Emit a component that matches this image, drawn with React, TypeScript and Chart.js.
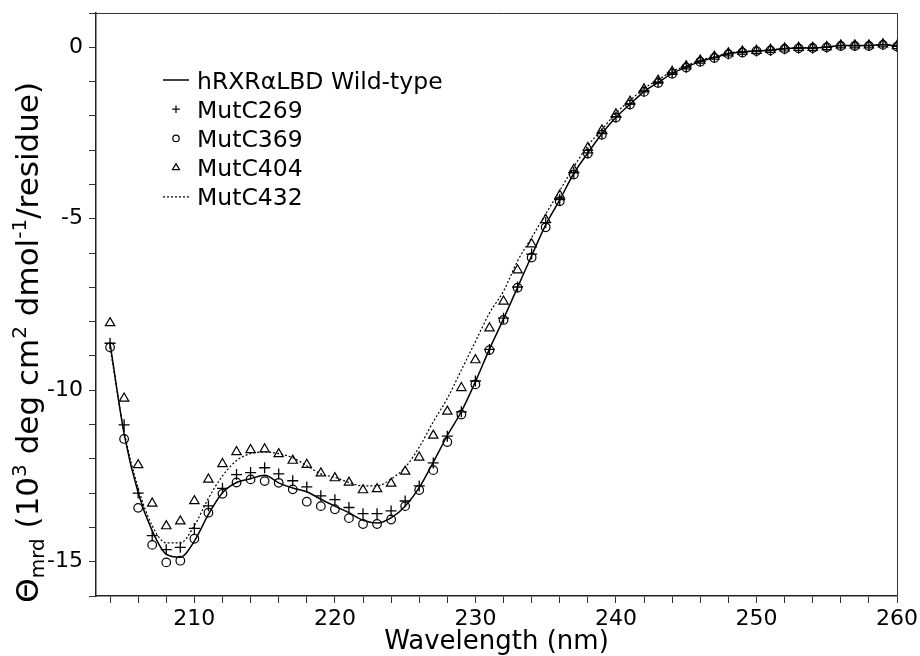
import { useEffect, useRef } from 'react';
import { Chart, registerables } from 'chart.js';

Chart.register(...registerables);

// ---- data ----
const wavelengths = [
  204, 205, 206, 207, 208, 209, 210, 211, 212, 213, 214, 215, 216, 217, 218, 219, 220, 221, 222,
  223, 224, 225, 226, 227, 228, 229, 230, 231, 232, 233, 234, 235, 236, 237, 238, 239, 240, 241,
  242, 243, 244, 245, 246, 247, 248, 249, 250, 251, 252, 253, 254, 255, 256, 257, 258, 259, 260,
];

const wildType = [
  -8.63, -11.27, -12.99, -14.10, -14.78, -14.87, -14.40, -13.62, -12.99, -12.69, -12.58, -12.48,
  -12.70, -12.85, -12.96, -13.18, -13.38, -13.57, -13.79, -13.87, -13.72, -13.38, -12.84, -12.10,
  -11.32, -10.62, -9.75, -8.80, -7.92, -7.00, -6.08, -5.18, -4.45, -3.68, -3.08, -2.52, -2.04,
  -1.66, -1.29, -1.03, -0.76, -0.58, -0.41, -0.30, -0.19, -0.14, -0.11, -0.09, -0.04, -0.02,
  -0.02, 0.0, 0.05, 0.05, 0.05, 0.08, 0.03,
];

const mutC269 = [
  -8.63, -11.01, -13.0, -14.24, -14.65, -14.58, -14.03, -13.37, -12.86, -12.46, -12.40, -12.26,
  -12.44, -12.64, -12.82, -13.08, -13.19, -13.42, -13.60, -13.60, -13.52, -13.23, -12.79, -12.12,
  -11.34, -10.63, -9.73, -8.81, -7.90, -6.99, -6.03, -5.11, -4.44, -3.66, -3.08, -2.52, -2.03,
  -1.65, -1.28, -1.02, -0.75, -0.58, -0.41, -0.30, -0.19, -0.14, -0.11, -0.09, -0.04, -0.02,
  -0.02, 0.0, 0.05, 0.05, 0.05, 0.08, 0.03,
];

const mutC369 = [
  -8.75, -11.42, -13.43, -14.51, -15.02, -14.97, -14.33, -13.57, -13.02, -12.69, -12.60, -12.65,
  -12.70, -12.89, -13.25, -13.38, -13.47, -13.73, -13.90, -13.90, -13.77, -13.38, -12.91, -12.33,
  -11.51, -10.71, -9.83, -8.83, -7.95, -7.01, -6.13, -5.25, -4.49, -3.71, -3.10, -2.55, -2.05,
  -1.67, -1.30, -1.04, -0.77, -0.59, -0.42, -0.31, -0.20, -0.15, -0.11, -0.09, -0.05, -0.03,
  -0.02, 0.0, 0.04, 0.04, 0.04, 0.07, 0.02,
];

const mutC404 = [
  -8.04, -10.24, -12.18, -13.30, -13.96, -13.82, -13.23, -12.60, -12.15, -11.80, -11.74, -11.72,
  -11.86, -12.05, -12.17, -12.42, -12.56, -12.69, -12.91, -12.88, -12.72, -12.37, -11.96, -11.32,
  -10.62, -9.93, -9.12, -8.19, -7.41, -6.50, -5.74, -5.03, -4.32, -3.57, -2.93, -2.42, -1.95,
  -1.58, -1.22, -0.97, -0.71, -0.55, -0.38, -0.27, -0.17, -0.12, -0.10, -0.07, -0.03, -0.01,
  -0.01, 0.01, 0.06, 0.06, 0.06, 0.09, 0.04,
];

const mutC432 = [
  -8.75, -11.2, -12.85, -13.95, -14.45, -14.45, -13.95, -13.15, -12.5, -12.05, -11.85, -11.8,
  -11.85, -11.97, -12.2, -12.44, -12.54, -12.69, -12.79, -12.79, -12.59, -12.25, -11.66, -10.92,
  -10.24, -9.41, -8.58, -7.75, -7.11, -6.23, -5.55, -4.86, -4.18, -3.49, -2.87, -2.40, -1.92,
  -1.55, -1.20, -0.95, -0.70, -0.54, -0.38, -0.27, -0.17, -0.12, -0.10, -0.07, -0.03, -0.01,
  -0.01, 0.01, 0.05, 0.05, 0.05, 0.08, 0.03,
];

const seriesNames = ['hRXRαLBD Wild-type', 'MutC269', 'MutC369', 'MutC404', 'MutC432'];
const xLabelTicks = [210, 220, 230, 240, 250, 260];
const yLabelTicks = [-15, -10, -5, 0];
const xTitle = 'Wavelength (nm)';
const yTitleParts: { t: string; k: 'n' | 'sub' | 'sup' }[] = [
  { t: 'Θ', k: 'n' },
  { t: 'mrd', k: 'sub' },
  { t: ' (10', k: 'n' },
  { t: '3', k: 'sup' },
  { t: ' deg cm', k: 'n' },
  { t: '2', k: 'sup' },
  { t: ' dmol', k: 'n' },
  { t: '-1', k: 'sup' },
  { t: '/residue)', k: 'n' },
];

const FONT = '"DejaVu Sans", "Noto Sans", sans-serif';

function drawMarker(ctx: CanvasRenderingContext2D, kind: string, x: number, y: number, r: number) {
  ctx.beginPath();
  if (kind === 'cross') {
    ctx.moveTo(x - r, y);
    ctx.lineTo(x + r, y);
    ctx.moveTo(x, y - r);
    ctx.lineTo(x, y + r);
  } else if (kind === 'circle') {
    ctx.arc(x, y, r, 0, Math.PI * 2);
  } else if (kind === 'triangle') {
    for (let i = 0; i < 3; i++) {
      const a = (i * 2 * Math.PI) / 3;
      const px = x + Math.sin(a) * r;
      const py = y - Math.cos(a) * r;
      if (i === 0) ctx.moveTo(px, py);
      else ctx.lineTo(px, py);
    }
    ctx.closePath();
  }
  ctx.stroke();
}

const decorPlugin = {
  id: 'decor',
  afterDraw(chart: any) {
    const { ctx, chartArea: a } = chart;
    ctx.save();
    // frame top/right
    ctx.strokeStyle = '#333';
    ctx.lineWidth = 1;
    ctx.setLineDash([]);
    ctx.beginPath();
    ctx.moveTo(a.left, Math.round(a.top) + 0.5);
    ctx.lineTo(Math.round(a.right) + 0.5, Math.round(a.top) + 0.5);
    ctx.lineTo(Math.round(a.right) + 0.5, a.bottom);
    ctx.stroke();

    // x title
    ctx.fillStyle = '#000';
    ctx.font = `26px ${FONT}`;
    ctx.textAlign = 'center';
    ctx.textBaseline = 'alphabetic';
    ctx.fillText(xTitle, (a.left + a.right) / 2, 649);

    // y title with sub/superscripts
    const big = `31px ${FONT}`;
    const small = `20px ${FONT}`;
    let total = 0;
    const widths = yTitleParts.map((p) => {
      ctx.font = p.k === 'n' ? big : small;
      const w = ctx.measureText(p.t).width;
      total += w;
      return w;
    });
    ctx.save();
    ctx.translate(38, 82 + total);
    ctx.rotate(-Math.PI / 2);
    ctx.textAlign = 'left';
    let cx = 0;
    yTitleParts.forEach((p, i) => {
      ctx.font = p.k === 'n' ? big : small;
      const dy = p.k === 'sub' ? 6 : p.k === 'sup' ? -12 : 0;
      ctx.fillText(p.t, cx, dy);
      cx += widths[i];
    });
    ctx.restore();

    // legend
    const lx0 = 163;
    const lx1 = 189;
    const mx = 176;
    const tx = 197;
    const base0 = 88.5;
    const step = 29.2;
    ctx.font = `23.5px ${FONT}`;
    ctx.textAlign = 'left';
    ctx.textBaseline = 'alphabetic';
    ctx.strokeStyle = '#000';
    seriesNames.forEach((name, i) => {
      const by = base0 + i * step;
      const my = by - 8.5;
      ctx.setLineDash([]);
      if (i === 0) {
        ctx.lineWidth = 1.5;
        ctx.beginPath();
        ctx.moveTo(lx0, my);
        ctx.lineTo(lx1, my);
        ctx.stroke();
      } else if (i === 4) {
        ctx.lineWidth = 1.2;
        ctx.setLineDash([2, 2]);
        ctx.beginPath();
        ctx.moveTo(lx0, my);
        ctx.lineTo(lx1, my);
        ctx.stroke();
        ctx.setLineDash([]);
      } else {
        ctx.lineWidth = 1.2;
        const kind = i === 1 ? 'cross' : i === 2 ? 'circle' : 'triangle';
        const r = i === 1 ? 3.8 : i === 2 ? 3.2 : 4;
        drawMarker(ctx, kind, mx, my, r);
      }
      ctx.fillStyle = '#000';
      ctx.fillText(name, tx, by);
    });
    ctx.restore();
  },
};

export default function App() {
  const ref = useRef<HTMLCanvasElement>(null);

  useEffect(() => {
    const canvas = ref.current;
    if (!canvas) return;
    const pts = (ys: number[]) => wavelengths.map((x, i) => ({ x, y: ys[i] }));
    const xTickValues: number[] = [];
    for (let v = 204; v <= 260; v += 2) xTickValues.push(v);
    const yTickValues: number[] = [];
    for (let v = -16; v <= 1; v += 1) yTickValues.push(v);

    const chart = new Chart(canvas, {
      type: 'scatter',
      data: {
        datasets: [
          {
            label: seriesNames[0],
            data: pts(wildType),
            showLine: true,
            borderColor: '#000',
            borderWidth: 1.5,
            pointRadius: 0,
            cubicInterpolationMode: 'monotone',
          },
          {
            label: seriesNames[1],
            data: pts(mutC269),
            showLine: false,
            pointStyle: 'cross',
            pointRadius: 5.5,
            pointBorderWidth: 1.3,
            borderColor: '#000',
            backgroundColor: 'rgba(0,0,0,0)',
          },
          {
            label: seriesNames[2],
            data: pts(mutC369),
            showLine: false,
            pointStyle: 'circle',
            pointRadius: 4.3,
            pointBorderWidth: 1.2,
            borderColor: '#000',
            backgroundColor: 'rgba(0,0,0,0)',
          },
          {
            label: seriesNames[3],
            data: pts(mutC404),
            showLine: false,
            pointStyle: 'triangle',
            pointRadius: 5.4,
            pointBorderWidth: 1.2,
            borderColor: '#000',
            backgroundColor: 'rgba(0,0,0,0)',
          },
          {
            label: seriesNames[4],
            data: pts(mutC432),
            showLine: true,
            borderColor: '#000',
            borderWidth: 1.2,
            borderDash: [2, 2],
            pointRadius: 0,
            cubicInterpolationMode: 'monotone',
          },
        ],
      } as any,
      options: {
        animation: false,
        responsive: false,
        devicePixelRatio: 1,
        layout: { padding: { top: 13, right: 23, left: 0, bottom: 0 } },
        plugins: {
          legend: { display: false },
          tooltip: { enabled: false },
          title: { display: false },
        },
        scales: {
          x: {
            type: 'linear',
            min: 203,
            max: 260,
            afterBuildTicks: (s: any) => {
              s.ticks = xTickValues.map((v) => ({ value: v }));
            },
            afterFit: (s: any) => {
              s.height = 60;
              s.paddingLeft = 0;
              s.paddingRight = 0;
            },
            ticks: {
              autoSkip: false,
              maxRotation: 0,
              padding: 3,
              color: '#000',
              font: { family: FONT, size: 22 },
              callback: (v: any) => (xLabelTicks.includes(Number(v)) ? String(v) : ''),
            },
            grid: { drawOnChartArea: false, tickLength: 7, tickColor: '#333', tickWidth: 1 },
            border: { display: true, color: '#222', width: 1.5 },
          },
          y: {
            type: 'linear',
            min: -16,
            max: 1,
            afterBuildTicks: (s: any) => {
              s.ticks = yTickValues.map((v) => ({ value: v }));
            },
            afterFit: (s: any) => {
              s.width = 96;
              s.paddingTop = 0;
              s.paddingBottom = 0;
            },
            ticks: {
              autoSkip: false,
              padding: 6,
              color: '#000',
              font: { family: FONT, size: 22 },
              callback: (v: any) => (yLabelTicks.includes(Number(v)) ? String(v) : ''),
            },
            grid: { drawOnChartArea: false, tickLength: 7, tickColor: '#333', tickWidth: 1 },
            border: { display: true, color: '#222', width: 1.5 },
          },
        },
      } as any,
      plugins: [decorPlugin],
    });
    return () => chart.destroy();
  }, []);

  return (
    <div style={{ position: 'fixed', left: 0, top: 0, width: 920, height: 656, background: '#fff' }}>
      <canvas ref={ref} width={920} height={656} style={{ width: 920, height: 656, display: 'block' }} />
    </div>
  );
}
